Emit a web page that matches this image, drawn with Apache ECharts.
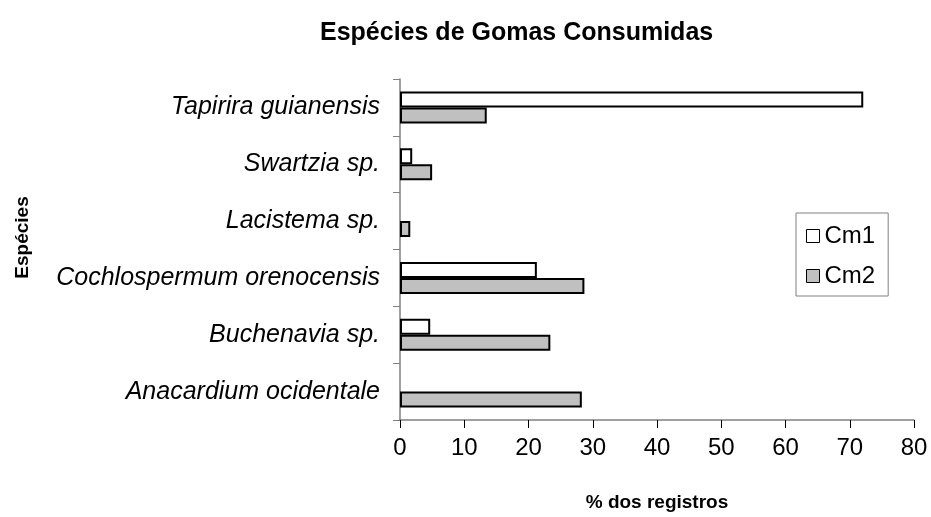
<!DOCTYPE html>
<html>
<head>
<meta charset="utf-8">
<script src="https://cdn.jsdelivr.net/npm/echarts@6/dist/echarts.min.js"></script>
<style>
  html, body { margin: 0; padding: 0; background: #fff; }
  #chart { width: 931px; height: 517px; }
</style>
</head>
<body>
<div id="chart"></div>
<script>
// categories listed bottom to top, as on the category axis
const species = [
    'Anacardium ocidentale',
    'Buchenavia sp.',
    'Cochlospermum orenocensis',
    'Lacistema sp.',
    'Swartzia sp.',
    'Tapirira guianensis'
];
const cm1 = [0, 4.7, 21.3, 0, 1.9, 72.1];
const cm2 = [28.3, 23.4, 28.7, 1.6, 5.0, 13.5];
const xTicks = { min: 0, max: 80, step: 10 };

const font = 'Liberation Sans, Arial, sans-serif';
const chart = echarts.init(document.getElementById('chart'));

// a zero value draws nothing in the original
const noZero = arr => arr.map(v => (v === 0 ? '-' : v));

const option = {
    animation: false,
    title: {
        text: 'Espécies de Gomas Consumidas',
        left: 315,
        top: 16,
        textStyle: { fontFamily: font, fontSize: 25, fontWeight: 'bold', color: '#000' }
    },
    legend: {
        orient: 'vertical',
        left: 796,
        top: 213,
        padding: [11, 13, 8, 10],
        itemWidth: 13,
        itemHeight: 13,
        itemGap: 16,
        borderColor: '#808080',
        borderWidth: 1,
        icon: 'rect',
        itemStyle: { borderWidth: 1 },
        textStyle: { fontFamily: font, fontSize: 24, color: '#000', lineHeight: 24 },
        data: ['Cm1', 'Cm2']
    },
    grid: { left: 400, right: 17, top: 79, bottom: 97, outerBoundsMode: 'none' },
    xAxis: {
        type: 'value',
        min: xTicks.min,
        max: xTicks.max,
        interval: xTicks.step,
        name: '% dos registros',
        nameLocation: 'middle',
        nameGap: 73,
        nameTextStyle: { fontFamily: font, fontSize: 19, fontWeight: 'bold', color: '#000' },
        splitLine: { show: false },
        axisLine: { show: true, lineStyle: { color: '#808080', width: 1.5 } },
        axisTick: { show: true, length: 8, lineStyle: { color: '#000' } },
        axisLabel: { margin: 16, fontFamily: font, fontSize: 24, color: '#000' }
    },
    yAxis: {
        type: 'category',
        data: species,
        name: 'Espécies',
        nameLocation: 'middle',
        nameGap: 368,
        nameTextStyle: { fontFamily: font, fontSize: 19, fontWeight: 'bold', color: '#000', padding: [0, 0, 0, 24] },
        axisLine: { show: true, lineStyle: { color: '#808080', width: 1.5 } },
        axisTick: { show: true, length: 7, lineStyle: { color: '#808080' } },
        axisLabel: { margin: 20, fontFamily: font, fontSize: 25, fontStyle: 'italic', color: '#000' }
    },
    series: [
        {
            name: 'Cm1',
            type: 'bar',
            data: noZero(cm1),
            barWidth: 16,
            barGap: '0%',
            itemStyle: { color: '#ffffff', borderColor: '#000', borderWidth: 2 }
        },
        {
            name: 'Cm2',
            type: 'bar',
            data: noZero(cm2),
            barWidth: 16,
            barGap: '0%',
            itemStyle: { color: '#c0c0c0', borderColor: '#000', borderWidth: 2 }
        }
    ]
};

chart.setOption(option);
</script>
</body>
</html>
